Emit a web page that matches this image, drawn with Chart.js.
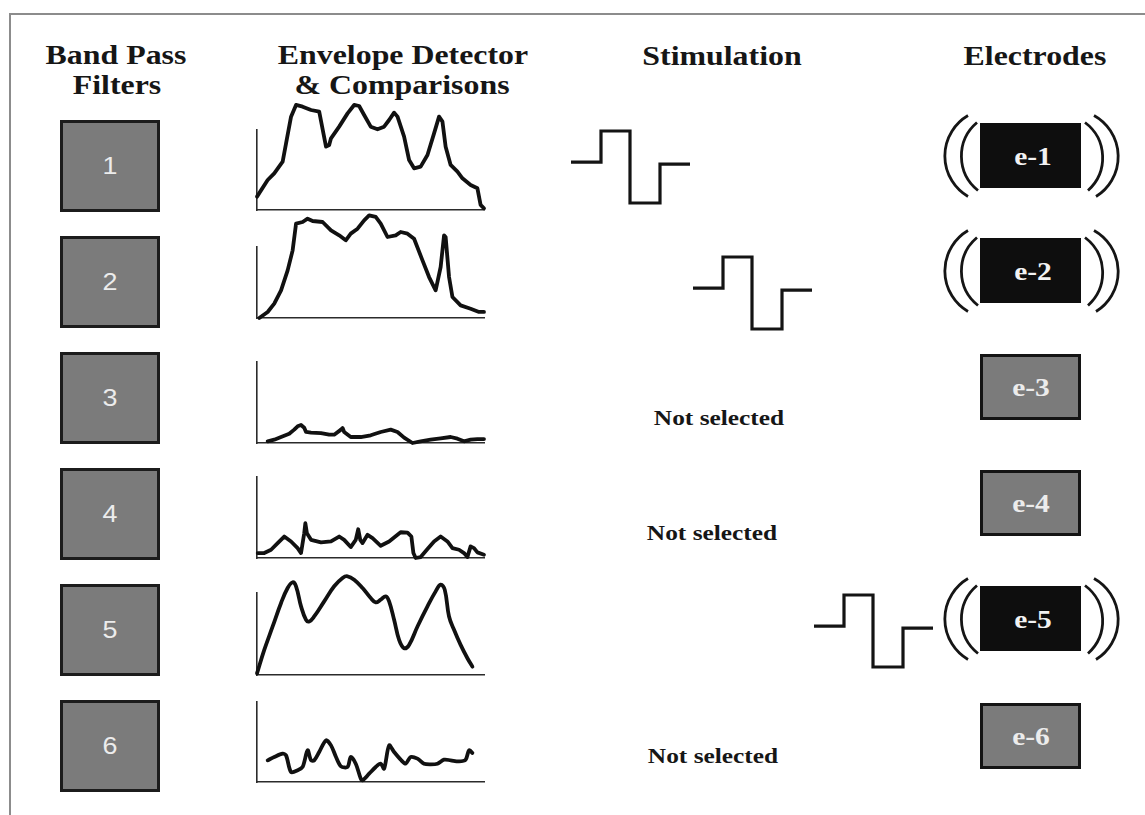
<!DOCTYPE html>
<html><head><meta charset="utf-8">
<script src="https://cdn.jsdelivr.net/npm/chart.js@4"></script>
<style>
html,body{margin:0;padding:0;background:#fff;width:1145px;height:815px;overflow:hidden;}
#stage{position:relative;width:1145px;height:815px;overflow:hidden;}
.frame{position:absolute;left:9px;top:13px;width:1200px;height:900px;border-left:2px solid #8c8c8c;border-top:2px solid #8c8c8c;}
.t{position:absolute;white-space:nowrap;line-height:1;transform-origin:center;}
.serif{font-family:"Liberation Serif","Times New Roman",serif;font-weight:bold;}
.sans{font-family:"Liberation Sans",Arial,sans-serif;}
.box{position:absolute;box-sizing:border-box;}
canvas{position:absolute;}
svg{position:absolute;left:0;top:0;}
</style></head>
<body><div id="stage"><div class="frame"></div></div>
<script>
// ---- data ----
const bandLabels = ['1','2','3','4','5','6'];
const electrodeLabels = ['e-1','e-2','e-3','e-4','e-5','e-6'];
const selected = [true, true, false, false, true, false];
const notSelectedText = 'Not selected';

// envelope of band 1..6 : time (0-100) and level (1 = height of the y axis)
const env1T = [0,4.7,7.6,11.3,12.8,15.0,17.2,20.1,23.8,27.4,30.4,31.8,32.6,36.2,39.9,42.8,45.0,47.2,50.1,53.1,56.0,58.2,60.4,61.9,64.8,67.0,69.2,72.1,75.1,78.0,80.2,81.7,83.1,85.3,88.3,90.5,94.1,97.1,98.5,100];
const env1V = [0.167,0.375,0.458,0.604,0.833,1.167,1.313,1.292,1.25,1.229,0.792,0.813,0.896,1.042,1.208,1.313,1.3,1.188,1.042,1.008,1.042,1.125,1.217,1.167,0.917,0.625,0.521,0.542,0.688,0.958,1.167,1.104,0.792,0.563,0.479,0.396,0.313,0.271,0.063,0.021];
const env2T = [1.0,4.7,7.6,10.6,13.5,15.7,17.2,20.1,22.3,24.5,28.9,32.6,36.2,39.1,41.3,44.3,47.2,49.4,52.3,54.5,57.5,61.1,63.3,66.3,69.2,72.9,75.8,78.7,80.9,82.4,83.1,84.6,86.1,89.7,94.1,97.8,100];
const env2V = [0.0,0.085,0.202,0.39,0.671,0.953,1.329,1.352,1.399,1.366,1.352,1.235,1.164,1.094,1.188,1.258,1.376,1.446,1.423,1.329,1.141,1.164,1.211,1.188,1.117,0.812,0.577,0.39,0.718,1.164,1.141,0.577,0.296,0.178,0.131,0.085,0.085];
const env3T = [4.7,7.6,10.6,14.2,16.4,17.9,19.4,20.8,21.6,23.8,28.2,31.8,34.0,37.0,37.7,38.4,41.3,45.7,50.1,54.5,58.9,61.9,64.8,68.5,72.1,76.5,80.9,85.3,88.3,91.2,94.1,97.1,100];
const env3V = [0.021,0.041,0.074,0.115,0.165,0.206,0.222,0.189,0.136,0.128,0.123,0.103,0.103,0.165,0.185,0.136,0.074,0.074,0.095,0.136,0.165,0.136,0.066,0.0,0.021,0.041,0.058,0.074,0.053,0.021,0.041,0.049,0.049];
const env4T = [0.3,3.2,6.2,9.1,12.0,15.0,17.9,19.4,20.8,21.3,22.0,23.8,28.2,32.6,36.2,38.4,41.3,43.5,44.6,45.5,46.5,48.7,50.9,54.5,58.2,61.9,63.3,66.3,68.0,68.9,69.9,72.1,75.1,78.0,80.9,83.9,86.1,89.0,91.2,92.7,94.1,95.6,97.1,100];
const env4V = [0.061,0.061,0.102,0.184,0.265,0.204,0.122,0.061,0.306,0.429,0.306,0.224,0.192,0.204,0.265,0.224,0.135,0.224,0.355,0.224,0.184,0.286,0.245,0.151,0.204,0.286,0.318,0.314,0.265,0.061,0.0,0.012,0.110,0.204,0.265,0.204,0.122,0.102,0.061,0.012,0.143,0.122,0.069,0.041];
const env5T = [0,3.2,6.9,10.6,13.5,15.7,17.2,19.4,21.6,23.0,25.2,29.6,34.0,37.7,39.9,42.8,46.5,50.1,52.3,54.5,56.7,58.2,60.4,62.6,64.8,67.0,70.7,75.1,78.7,80.9,82.7,84.6,86.8,89.7,92.7,94.9];
const env5V = [0.02,0.306,0.592,0.878,1.061,1.131,1.082,0.837,0.673,0.653,0.714,0.898,1.082,1.184,1.204,1.163,1.061,0.939,0.886,0.918,0.959,0.898,0.673,0.429,0.327,0.367,0.592,0.837,1.02,1.102,1.041,0.714,0.551,0.367,0.204,0.102];
const env6T = [4.7,7.6,11.3,12.8,15.0,17.9,20.1,22.3,23.8,25.2,27.4,30.4,32.6,34.8,37.0,39.9,41.3,43.5,45.7,46.5,49.4,52.3,54.5,56.0,58.2,60.4,63.3,65.5,67.7,70.7,73.6,76.5,79.5,82.4,85.3,89.0,91.9,93.4,94.9];
const env6V = [0.271,0.313,0.354,0.333,0.125,0.146,0.188,0.396,0.271,0.271,0.375,0.521,0.458,0.313,0.196,0.188,0.313,0.229,0.042,0.021,0.104,0.188,0.229,0.167,0.458,0.375,0.279,0.229,0.313,0.292,0.229,0.221,0.229,0.279,0.271,0.258,0.279,0.396,0.363];
const envT = [env1T, env2T, env3T, env4T, env5T, env6T];
const envV = [env1V, env2V, env3V, env4V, env5V, env6V];

// biphasic stimulation pulse
const pulseT = [0, 30, 30, 59, 59, 89, 89, 119];
const pulseV = [0, 0, 1, 1, -1.32, -1.32, -0.07, -0.07];

// ---- layout ----
const stage = document.getElementById('stage');
const rowBoxTop = [120, 236, 352, 468, 584, 700];
const envBase = [210, 318, 443, 558, 675, 782];
const envTop  = [130, 247, 362, 477, 593, 702];
const elecTop = [123, 238, 354, 470, 586, 703];
const pulsePos = [[571,131],[693,257],null,null,[814,595],null];
const notSelPos = [null,null,[719,426],[712,541],null,[713,764]];
const SX = 1.18;

function addText(txt, cx, baseline, size, cls, color, sx) {
  const d = document.createElement('div');
  d.className = 't ' + cls;
  d.textContent = txt;
  const asc = cls === 'sans' ? 0.8465 : 0.8375;
  d.style.left = cx + 'px';
  d.style.top = (baseline - asc * size) + 'px';
  d.style.fontSize = size + 'px';
  d.style.color = color;
  d.style.transform = 'translateX(-50%) scaleX(' + (sx || SX) + ')';
  stage.appendChild(d);
}
function addBox(x, y, w, h, bg, border) {
  const b = document.createElement('div');
  b.className = 'box';
  b.style.cssText += `left:${x}px;top:${y}px;width:${w}px;height:${h}px;background:${bg};border:${border};`;
  stage.appendChild(b);
}

// titles
addText('Band Pass', 116, 65, 27, 'serif', '#161616');
addText('Filters', 117, 95, 27, 'serif', '#161616');
addText('Envelope Detector', 403, 65, 27, 'serif', '#161616');
addText('& Comparisons', 402, 95, 27, 'serif', '#161616');
addText('Stimulation', 722, 66, 27, 'serif', '#161616');
addText('Electrodes', 1035, 66, 27, 'serif', '#161616');

// band pass filter boxes
bandLabels.forEach((lab, i) => {
  addBox(60, rowBoxTop[i], 100, 92, '#7b7b7b', '3px solid #1c1c1c');
  addText(lab, 110, rowBoxTop[i] + 46 + 8.5, 24, 'sans', '#ececec', 1.12);
});

// electrodes
const svgNS = 'http://www.w3.org/2000/svg';
const svg = document.createElementNS(svgNS, 'svg');
svg.setAttribute('width', 1145); svg.setAttribute('height', 815);
stage.appendChild(svg);
function arc(d) {
  const p = document.createElementNS(svgNS, 'path');
  p.setAttribute('d', d); p.setAttribute('fill', 'none');
  p.setAttribute('stroke', '#151515'); p.setAttribute('stroke-width', '2.8');
  svg.appendChild(p);
}
electrodeLabels.forEach((lab, i) => {
  const top = elecTop[i];
  if (selected[i]) {
    addBox(980, top, 101, 65, '#0e0e0e', 'none');
    const c = top + 32.5;
    arc(`M968,${c-40} A47,47 0 0,0 968,${c+41}`);
    arc(`M977,${c-33} A44,44 0 0,0 978,${c+35}`);
    arc(`M1094,${c-40} A47,47 0 0,1 1096,${c+41}`);
    arc(`M1085,${c-33} A44,44 0 0,1 1088,${c+35}`);
    addText(lab, 1033, top + 42, 25, 'serif', '#f2f2f2');
  } else {
    addBox(980, top, 101, 66, '#7b7b7b', '3px solid #141414');
    addText(lab, 1031, top + 42, 25, 'serif', '#ececec');
  }
});

// not selected labels
notSelPos.forEach(p => { if (p) addText(notSelectedText, p[0], p[1], 21.5, 'serif', '#161616'); });

// ---- charts ----
function envelopeChart(i) {
  const B = envBase[i], Tp = envTop[i];
  const padT = 45, padB = 8, padL = 10, padR = 10;
  const w = 227 + padL + padR, h = (B - Tp) + padT + padB;
  const cv = document.createElement('canvas');
  cv.width = w; cv.height = h;
  cv.style.left = (257 - padL) + 'px'; cv.style.top = (Tp - padT) + 'px';
  cv.style.width = w + 'px'; cv.style.height = h + 'px';
  stage.appendChild(cv);
  const axisOpts = (mn, mx) => ({
    type: 'linear', min: mn, max: mx,
    grid: { display: false, drawTicks: false },
    ticks: { display: false },
    border: { display: true, color: '#2b2b2b', width: 1.6 }
  });
  new Chart(cv, {
    type: 'line',
    data: { datasets: [{
      data: envT[i].map((t, k) => ({ x: t, y: envV[i][k] })),
      borderColor: '#111111', borderWidth: 3.8, pointRadius: 0,
      tension: (i === 4) ? 0.4 : (i === 5 ? 0.3 : 0),
      clip: false, borderJoinStyle: 'round', borderCapStyle: 'round', fill: false
    }]},
    options: {
      responsive: false, animation: false, devicePixelRatio: 1, events: [],
      layout: { padding: { top: padT, bottom: padB, left: padL, right: padR } },
      plugins: { legend: { display: false }, tooltip: { enabled: false } },
      scales: { x: axisOpts(0, 100), y: axisOpts(0, 1) }
    }
  });
}
function pulseChart(x0, yTop) {
  const pad = 4, w = 119 + 2 * pad, h = 72 + 2 * pad;
  const cv = document.createElement('canvas');
  cv.width = w; cv.height = h;
  cv.style.left = (x0 - pad) + 'px'; cv.style.top = (yTop - pad) + 'px';
  cv.style.width = w + 'px'; cv.style.height = h + 'px';
  stage.appendChild(cv);
  new Chart(cv, {
    type: 'line',
    data: { datasets: [{
      data: pulseT.map((t, k) => ({ x: t, y: pulseV[k] })),
      borderColor: '#141414', borderWidth: 3.2, pointRadius: 0, tension: 0,
      clip: false, borderJoinStyle: 'miter', borderCapStyle: 'butt', fill: false
    }]},
    options: {
      responsive: false, animation: false, devicePixelRatio: 1, events: [],
      layout: { padding: pad },
      plugins: { legend: { display: false }, tooltip: { enabled: false } },
      scales: {
        x: { type: 'linear', min: 0, max: 119, display: false },
        y: { type: 'linear', min: -1.32, max: 1, display: false }
      }
    }
  });
}
for (let i = 0; i < 6; i++) envelopeChart(i);
pulsePos.forEach(p => { if (p) pulseChart(p[0], p[1]); });
</script>
</body></html>
